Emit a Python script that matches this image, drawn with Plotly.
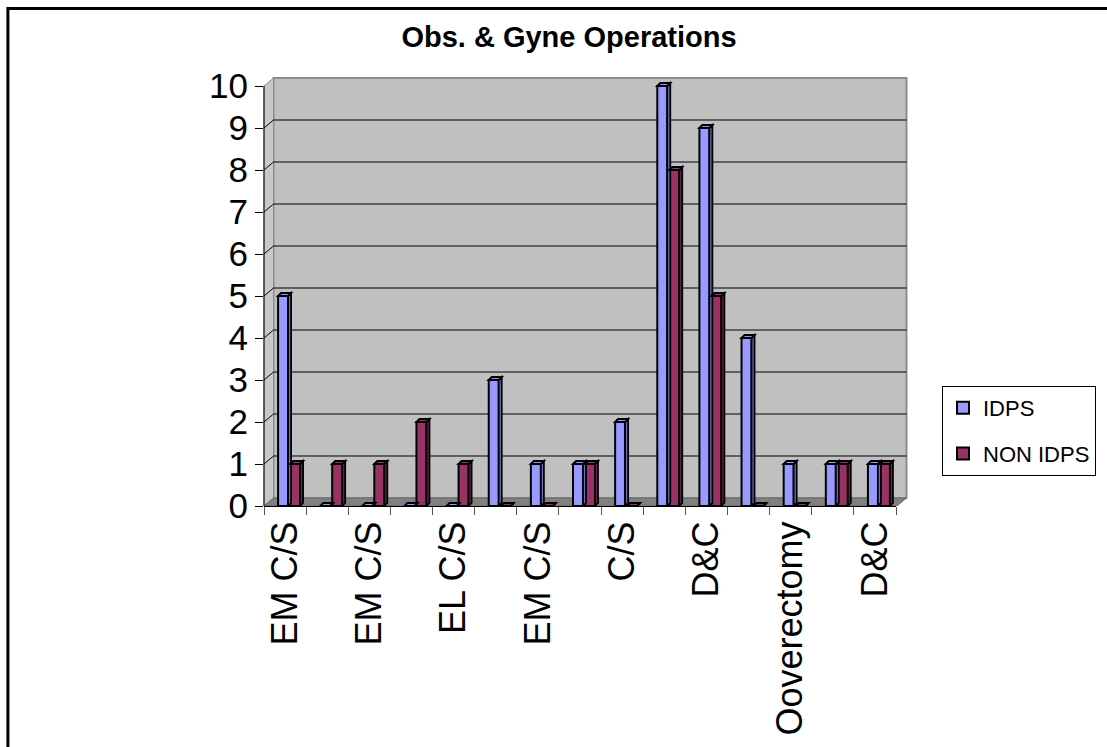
import plotly.graph_objects as go

# ---------------- data ----------------
categories = ["EM C/S", "", "EM C/S", "", "EL C/S", "", "EM C/S", "",
              "C/S", "", "D&C", "", "Ooverectomy", "", "D&C"]
idps = [5, 0, 0, 0, 0, 3, 1, 1, 2, 10, 9, 4, 1, 1, 1]
non_idps = [1, 1, 1, 2, 1, 0, 0, 1, 0, 8, 5, 0, 0, 1, 1]
series_names = ["IDPS", "NON IDPS"]
y_tick_values = list(range(0, 11))
title_text = "Obs. & Gyne Operations"

# ---------------- layout geometry ----------------
W, H = 1107, 747
ML, MR, MT, MB = 264, 210, 65, 241
PW = W - ML - MR
PH = H - MT - MB
Y_MAX = 10.5
PX_PER_Y = PH / Y_MAX
N = len(categories)
PX_PER_X = PW / N
DX = 9.5            # depth offset (pixels) of back wall
DY = 8 / PX_PER_Y   # depth offset in y data units
BW = 10             # bar front width (px)
BD = 3              # bar depth (px)
BDY = BD / PX_PER_Y

FONT = "Liberation Sans, Arial, sans-serif"
colors = ["#9999FF", "#993366"]
side_colors = ["#7070C8", "#6E2449"]
offsets_px = [-7, 5]

x = list(range(1, N + 1))
series = [idps, non_idps]

fig = go.Figure()
for name, vals, col, off in zip(series_names, series, colors, offsets_px):
    fig.add_trace(go.Bar(
        x=x, y=vals, name=name,
        offset=off / PX_PER_X, width=BW / PX_PER_X,
        marker=dict(color=col, line=dict(color="black", width=2)),
        legendgroup=name,
    ))

shapes = []
# back wall, left wall, floor
shapes.append(dict(type="path", xref="paper", xsizemode="pixel", xanchor=0, yref="y",
                   path=f"M{DX},{DY} L{PW + DX},{DY} L{PW + DX},{10 + DY} L{DX},{10 + DY} Z",
                   fillcolor="#C0C0C0", line=dict(color="#8C8C8C", width=2), layer="below"))
shapes.append(dict(type="path", xref="paper", xsizemode="pixel", xanchor=0, yref="y",
                   path=f"M0,0 L0,10 L{DX},{10 + DY} L{DX},{DY} Z",
                   fillcolor="#C8C8C8", line=dict(color="#8C8C8C", width=1), layer="below"))
shapes.append(dict(type="path", xref="paper", xsizemode="pixel", xanchor=0, yref="y",
                   path=f"M0,0 L{PW},0 L{PW + DX},{DY} L{DX},{DY} Z",
                   fillcolor="#808080", line=dict(color="#6A6A6A", width=1), layer="below"))
# gridlines on the walls
for v in y_tick_values[1:-1]:
    shapes.append(dict(type="path", xref="paper", xsizemode="pixel", xanchor=0, yref="y",
                       path=f"M0,{v} L{DX},{v + DY} L{PW + DX},{v + DY}",
                       line=dict(color="black", width=1), layer="below"))
# front y-axis line
shapes.append(dict(type="line", xref="paper", x0=0, x1=0, yref="y", y0=0, y1=10,
                   line=dict(color="black", width=1)))
# 3D tops and sides of bars
for vals, col, scol, off in zip(series, colors, side_colors, offsets_px):
    xl, xr = off, off + BW
    for xi, v in zip(x, vals):
        shapes.append(dict(type="path", xref="x", xsizemode="pixel", xanchor=xi, yref="y",
                           path=f"M{xr},0 L{xr + BD},{BDY} L{xr + BD},{v + BDY} L{xr},{v} Z",
                           fillcolor=scol, line=dict(color="black", width=1.8)))
        shapes.append(dict(type="path", xref="x", xsizemode="pixel", xanchor=xi, yref="y",
                           path=f"M{xl},{v} L{xr},{v} L{xr + BD},{v + BDY} L{xl + BD},{v + BDY} Z",
                           fillcolor=col, line=dict(color="black", width=2)))
# outer chart border
shapes.append(dict(type="rect", xref="paper", yref="paper",
                   x0=(7.5 - ML) / PW, x1=(W + 20 - ML) / PW,
                   y0=(MT + PH - 8.5) / PH, y1=(MT + PH - H - 20) / PH,
                   line=dict(color="black", width=3), fillcolor="rgba(0,0,0,0)"))

tickvals = [xi for xi, c in zip(x, categories) if c]
ticktext = [c for c in categories if c]

fig.update_layout(
    width=W, height=H,
    margin=dict(l=ML, r=MR, t=MT, b=MB, pad=0),
    paper_bgcolor="white", plot_bgcolor="rgba(0,0,0,0)",
    barmode="overlay",
    showlegend=True,
    title=dict(text=title_text, xref="container", yref="container",
               x=569 / W, y=1 - 37 / H, xanchor="center", yanchor="middle",
               font=dict(family=FONT, size=29, color="black", weight="bold")),
    xaxis=dict(range=[0.5, N + 0.5], tickvals=tickvals, ticktext=ticktext,
               tickangle=-90, ticks="", showgrid=False, zeroline=False,
               showline=True, linecolor="black", linewidth=1,
               minor=dict(ticks="outside", ticklen=8, tickcolor="#555555",
                          tick0=0.5, dtick=1, showgrid=False),
               tickfont=dict(family=FONT, size=36, color="black"), fixedrange=True),
    yaxis=dict(range=[0, Y_MAX], tickvals=y_tick_values,
               ticks="outside", ticklen=8, tickcolor="black",
               showgrid=False, zeroline=False, showline=False,
               tickfont=dict(family=FONT, size=35, color="black"), fixedrange=True),
    legend=dict(x=(942 - ML) / PW, y=(MT + PH - 386) / PH, xanchor="left", yanchor="top",
                bgcolor="white", bordercolor="black", borderwidth=1,
                font=dict(family=FONT, size=22, color="black"),
                tracegroupgap=14),
    shapes=shapes,
)

fig.write_html("out.html", config={"displayModeBar": False},
               post_script="document.body.style.margin='0px';document.body.style.padding='0px';")
